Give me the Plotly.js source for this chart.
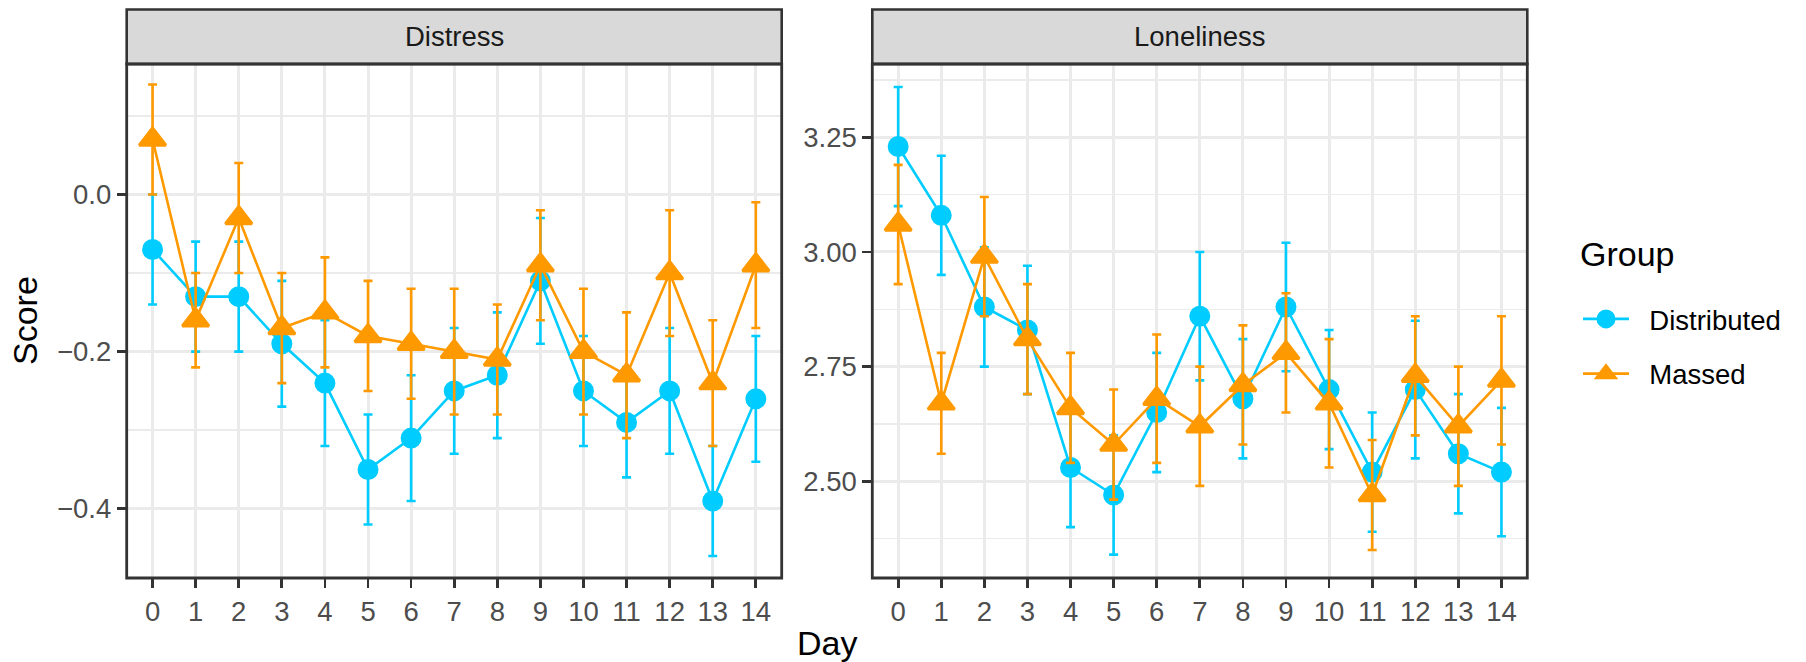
<!DOCTYPE html>
<html>
<head>
<meta charset="utf-8">
<script src="https://cdn.plot.ly/plotly-3.0.1.min.js"></script>
<style>html,body{margin:0;padding:0;background:#fff;}#chart{width:1806px;height:662px;}</style>
</head>
<body>
<div id="chart"></div>
<script>
// ---- data ----
const days = [0,1,2,3,4,5,6,7,8,9,10,11,12,13,14];
const dayLabels = ["0","1","2","3","4","5","6","7","8","9","10","11","12","13","14"];
const groups = ["Distributed","Massed"];
const panels = ["Distress","Loneliness"];

const distressDistributed    = [-0.07,-0.13,-0.13,-0.19,-0.24,-0.35,-0.31,-0.25,-0.23,-0.11,-0.25,-0.29,-0.25,-0.39,-0.26];
const distressDistributedSE  = [0.07,0.07,0.07,0.08,0.08,0.07,0.08,0.08,0.08,0.08,0.07,0.07,0.08,0.07,0.08];
const distressMassed         = [0.07,-0.16,-0.03,-0.17,-0.15,-0.18,-0.19,-0.20,-0.21,-0.09,-0.20,-0.23,-0.10,-0.24,-0.09];
const distressMassedSE       = [0.07,0.06,0.07,0.07,0.07,0.07,0.07,0.08,0.07,0.07,0.08,0.08,0.08,0.08,0.08];

const lonelinessDistributed   = [3.23,3.08,2.88,2.83,2.53,2.47,2.65,2.86,2.68,2.88,2.70,2.52,2.70,2.56,2.52];
const lonelinessDistributedSE = [0.13,0.13,0.13,0.14,0.13,0.13,0.13,0.14,0.13,0.14,0.13,0.13,0.15,0.13,0.14];
const lonelinessMassed        = [3.06,2.67,2.99,2.81,2.66,2.58,2.68,2.62,2.71,2.78,2.67,2.47,2.73,2.62,2.72];
const lonelinessMassedSE      = [0.13,0.11,0.13,0.12,0.12,0.12,0.14,0.13,0.13,0.13,0.14,0.12,0.13,0.13,0.14];

const distressTicks = [-0.4,-0.2,0.0];
const lonelinessTicks = [2.50,2.75,3.00,3.25];

// ---- style ----
const W = 1806, H = 662;
const BLUE = "#00CCFF", ORANGE = "#FF9900";
const FONT = "Liberation Sans, Arial, Helvetica, sans-serif";
const px = v => v / W;
const py = v => (H - v) / H;

function mk(x, y, se, group, xa, ya, showlegend) {
  const blue = group === "Distributed";
  const c = blue ? BLUE : ORANGE;
  return {
    type: "scatter", mode: "lines+markers",
    x: x, y: y, xaxis: xa, yaxis: ya,
    name: "\u00A0\u00A0" + group, legendgroup: group, showlegend: showlegend,
    line: {color: c, width: 2.6},
    marker: {color: c, symbol: blue ? "circle" : "triangle-up", size: blue ? 18 : 23,
             line: {color: c, width: 3}},
    error_y: {type: "data", array: se, visible: true, color: c, thickness: 2.6, width: 4.5},
    hoverinfo: "x+y"
  };
}

const traces = [
  mk(days, distressDistributed, distressDistributedSE, groups[0], "x", "y", true),
  mk(days, distressMassed, distressMassedSE, groups[1], "x", "y", true),
  mk(days, lonelinessDistributed, lonelinessDistributedSE, groups[0], "x2", "y2", false),
  mk(days, lonelinessMassed, lonelinessMassedSE, groups[1], "x2", "y2", false)
];

const P1 = [126.7, 781.7], P2 = [872.3, 1527.3];
const TOP = 64, BOT = 578, STRIP_TOP = 9.5;
const ydom = [py(BOT), py(TOP)];

const xcommon = {
  range: [-0.6, 14.6], tickmode: "array", tickvals: days, ticktext: dayLabels,
  showgrid: true, gridcolor: "#EBEBEB", gridwidth: 3, zeroline: false, showline: false,
  ticks: "outside", ticklen: 9, tickwidth: 2.7, tickcolor: "#333333",
  tickfont: {family: FONT, size: 27.5, color: "#4D4D4D"}, fixedrange: true
};
const ycommon = {
  showgrid: true, gridcolor: "#EBEBEB", gridwidth: 3, zeroline: false, showline: false,
  ticks: "outside", ticklen: 9, tickwidth: 2.7, tickcolor: "#333333",
  tickfont: {family: FONT, size: 27.5, color: "#4D4D4D"}, fixedrange: true
};

const layout = {
  width: W, height: H,
  margin: {l: 0, r: 0, t: 0, b: 0, pad: 0},
  paper_bgcolor: "#FFFFFF", plot_bgcolor: "#FFFFFF",
  font: {family: FONT, color: "#000000"},
  showlegend: true,
  xaxis: Object.assign({}, xcommon, {domain: [px(P1[0]), px(P1[1])], anchor: "y"}),
  xaxis2: Object.assign({}, xcommon, {domain: [px(P2[0]), px(P2[1])], anchor: "y2"}),
  yaxis: Object.assign({}, ycommon, {domain: ydom, anchor: "x", range: [-0.488, 0.166],
          tickmode: "array", tickvals: distressTicks, tickformat: ".1f",
          minor: {dtick: 0.1, tick0: 0.1, showgrid: true, gridcolor: "#EBEBEB", gridwidth: 1.6, ticks: ""}}),
  yaxis2: Object.assign({}, ycommon, {domain: ydom, anchor: "x2", range: [2.289, 3.410],
          tickmode: "array", tickvals: lonelinessTicks, tickformat: ".2f",
          minor: {dtick: 0.125, tick0: 2.375, showgrid: true, gridcolor: "#EBEBEB", gridwidth: 1.6, ticks: ""}}),
  legend: {
    x: px(1578), y: py(294.5), xanchor: "left", yanchor: "top",
    bgcolor: "rgba(0,0,0,0)", borderwidth: 0,
    font: {family: FONT, size: 27.5, color: "#000000"},
    traceorder: "grouped", tracegroupgap: 16, itemwidth: 46
  },
  shapes: [
    {type: "rect", xref: "paper", yref: "paper", x0: px(P1[0]), x1: px(P1[1]), y0: py(TOP), y1: py(STRIP_TOP),
     fillcolor: "#D9D9D9", line: {color: "#333333", width: 2.6}, layer: "above"},
    {type: "rect", xref: "paper", yref: "paper", x0: px(P2[0]), x1: px(P2[1]), y0: py(TOP), y1: py(STRIP_TOP),
     fillcolor: "#D9D9D9", line: {color: "#333333", width: 2.6}, layer: "above"},
    {type: "rect", xref: "paper", yref: "paper", x0: px(P1[0]), x1: px(P1[1]), y0: py(BOT), y1: py(TOP),
     fillcolor: "rgba(0,0,0,0)", line: {color: "#333333", width: 2.8}, layer: "above"},
    {type: "rect", xref: "paper", yref: "paper", x0: px(P2[0]), x1: px(P2[1]), y0: py(BOT), y1: py(TOP),
     fillcolor: "rgba(0,0,0,0)", line: {color: "#333333", width: 2.8}, layer: "above"}
  ],
  annotations: [
    {text: panels[0], xref: "paper", yref: "paper", x: px((P1[0]+P1[1])/2), y: py(36.5),
     xanchor: "center", yanchor: "middle", showarrow: false, font: {family: FONT, size: 27.5, color: "#1A1A1A"}},
    {text: panels[1], xref: "paper", yref: "paper", x: px((P2[0]+P2[1])/2), y: py(36.5),
     xanchor: "center", yanchor: "middle", showarrow: false, font: {family: FONT, size: 27.5, color: "#1A1A1A"}},
    {text: "Score", xref: "paper", yref: "paper", x: px(25), y: py(321),
     xanchor: "center", yanchor: "middle", textangle: -90, showarrow: false, font: {family: FONT, size: 34, color: "#000000"}},
    {text: "Day", xref: "paper", yref: "paper", x: px(827), y: py(643),
     xanchor: "center", yanchor: "middle", showarrow: false, font: {family: FONT, size: 34, color: "#000000"}},
    {text: "Group", xref: "paper", yref: "paper", x: px(1578), y: py(253.5),
     xanchor: "left", yanchor: "middle", showarrow: false, font: {family: FONT, size: 34, color: "#000000"}}
  ]
};

Plotly.newPlot("chart", traces, layout, {displayModeBar: false, staticPlot: true});
</script>
</body>
</html>
